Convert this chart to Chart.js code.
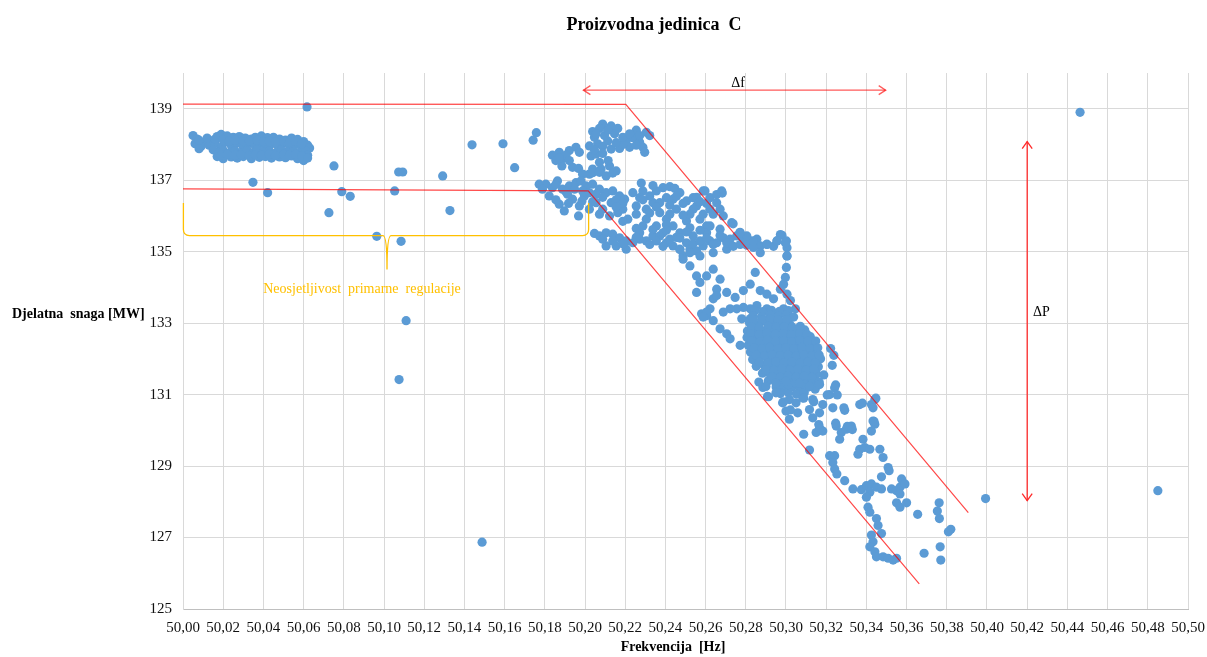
<!DOCTYPE html>
<html>
<head>
<meta charset="utf-8">
<title>Proizvodna jedinica C</title>
<script src="https://cdn.jsdelivr.net/npm/chart.js@4"></script>
<style>
  body { margin: 0; background: #fff; }
  #wrap { width: 1207px; height: 657px; }
</style>
</head>
<body>
<div id="wrap"><canvas id="chart" width="1207" height="657"></canvas></div>
<script>
// ══════════════════════════════════════════
// DATA  (frekvencija [Hz], djelatna snaga [MW])
// ══════════════════════════════════════════
const xTicks = [50.00, 50.02, 50.04, 50.06, 50.08, 50.10, 50.12, 50.14, 50.16, 50.18, 50.20, 50.22, 50.24,
  50.26, 50.28, 50.30, 50.32, 50.34, 50.36, 50.38, 50.40, 50.42, 50.44, 50.46, 50.48, 50.50];
const yTicks = [125, 127, 129, 131, 133, 135, 137, 139];

// steady band before the dead band ends
const restBand = [
  [50.005,138.25],[50.007,138.15],[50.011,138.05],[50.014,138.1],[50.017,138.22],[50.019,138.28],[50.022,138.24],
  [50.025,138.2],[50.028,138.22],[50.031,138.18],[50.034,138.15],[50.036,138.2],[50.039,138.24],[50.042,138.19],
  [50.045,138.2],[50.048,138.15],[50.051,138.12],[50.054,138.18],[50.057,138.14],[50.06,138.08],[50.062,137.98],
  [50.006,138.02],[50.009,137.95],[50.013,137.98],[50.016,138.05],[50.019,137.92],[50.021,138.06],[50.024,137.97],
  [50.027,138.04],[50.03,137.93],[50.033,138.03],[50.036,137.96],[50.038,138.05],[50.041,137.94],[50.044,138.02],
  [50.047,137.97],[50.05,138.04],[50.053,137.95],[50.056,138.0],[50.059,137.92],[50.063,137.9],
  [50.008,137.88],[50.015,137.85],[50.018,137.78],[50.02,137.84],[50.023,137.76],[50.026,137.82],[50.029,137.75],
  [50.032,137.83],[50.035,137.77],[50.037,137.85],[50.04,137.78],[50.043,137.82],[50.046,137.76],[50.049,137.84],
  [50.052,137.79],[50.055,137.8],[50.058,137.76],[50.061,137.82],
  [50.017,137.66],[50.02,137.6],[50.024,137.65],[50.027,137.62],[50.03,137.66],[50.034,137.6],[50.038,137.64],
  [50.041,137.66],[50.044,137.62],[50.048,137.65],[50.051,137.63],[50.054,137.68],[50.057,137.6],[50.06,137.55],[50.062,137.7],
  [50.008,138.12],[50.012,138.18],[50.016,138.15],[50.02,138.13],[50.023,138.1],[50.026,138.12],[50.03,138.08],
  [50.033,138.1],[50.037,138.12],[50.04,138.08],[50.043,138.1],[50.046,138.07],[50.05,138.1],[50.053,138.06],
  [50.056,138.08],[50.059,138.02],
  [50.019,137.7],[50.022,137.72],[50.026,137.7],[50.029,137.71],[50.033,137.69],[50.036,137.71],[50.039,137.7],
  [50.043,137.72],[50.046,137.69],[50.05,137.72],[50.053,137.7],[50.056,137.72],[50.059,137.68],[50.062,137.62]
];

const scattered = [
  [50.0617,139.05],[50.0348,136.94],[50.0421,136.65],[50.0751,137.40],[50.0726,136.09],[50.079,136.68],
  [50.0832,136.55],[50.0964,135.43],[50.1053,136.70],[50.1073,137.23],[50.1093,137.23],[50.1085,135.29],
  [50.1292,137.12],[50.1328,136.15],[50.111,133.07],[50.1075,131.42],[50.1488,126.87],[50.1438,137.99],
  [50.1592,138.02],[50.165,137.35],[50.1742,138.12],[50.1758,138.33],[50.3993,128.09],[50.485,128.31],[50.4463,138.90]
];

const upperLoop = [
  [50.2088,138.57],[50.2130,138.52],[50.2163,138.45],[50.2038,138.36],[50.2072,138.45],[50.2113,138.1],[50.2130,137.87],
  [50.2172,137.89],[50.2022,137.96],[50.2030,137.68],[50.2055,137.73],[50.2097,138.25],[50.2047,138.2],[50.2147,138.3],
  [50.2063,138.02],[50.2205,138.1],[50.2238,138.19],[50.2272,138.06],[50.2305,138.34],[50.2322,138.25],[50.2288,137.92],
  [50.2297,137.78],[50.2222,137.92],[50.2255,138.4],[50.2188,138.0],[50.1838,137.7],[50.1872,137.78],[50.1888,137.6],
  [50.1885,137.4],[50.1922,137.83],[50.1955,137.92],[50.1972,137.78],[50.1938,137.36],[50.1968,137.33],[50.1905,137.7],
  [50.1855,137.55],[50.2038,137.31],[50.208,137.31],[50.2122,137.4],[50.2155,137.26],[50.2105,137.12],[50.2022,137.17],
  [50.2138,137.2],[50.2038,137.21],[50.1988,137.17],
  [50.2055,138.3],[50.2113,138.4],[50.2088,137.95],[50.2155,138.05],[50.2188,138.2],[50.2222,138.3],[50.2272,138.25],
  [50.2255,137.98],[50.2047,137.85],[50.2088,137.75],[50.1922,137.55],[50.1872,137.62],[50.2072,137.5],[50.2115,137.55],
  [50.2072,137.22]
];

const mainBand = [
  [50.1772,136.89],[50.1805,136.89],[50.1838,136.79],[50.1863,136.98],[50.1888,136.75],[50.1922,136.84],[50.1955,136.93],
  [50.198,136.98],[50.2005,136.84],[50.2038,136.89],[50.2072,136.75],[50.2105,136.65],[50.2138,136.7],[50.2172,136.56],
  [50.2197,136.47],[50.1872,136.33],[50.1897,136.14],[50.1938,136.47],[50.1972,136.28],[50.1968,136.0],[50.2022,136.19],
  [50.2055,136.37],[50.2088,136.19],[50.2122,136.0],[50.2163,136.09],[50.2213,135.91],[50.2188,136.19],[50.1822,136.56],
  [50.1913,136.61],[50.1997,136.56],[50.2055,136.61],[50.213,136.37],
  [50.228,136.92],[50.2288,136.7],[50.2272,136.51],[50.2255,136.28],[50.2305,136.19],[50.2355,136.7],[50.2388,136.79],
  [50.2422,136.82],[50.2447,136.77],[50.2405,136.51],[50.2438,136.47],[50.2338,136.37],[50.2372,136.09],[50.2405,135.91],
  [50.2455,136.19],[50.2505,136.42],[50.2538,136.51],[50.2555,136.28],[50.2588,136.7],[50.2622,136.51],[50.2655,136.37],
  [50.268,136.7],[50.2505,135.86],[50.2572,135.91],[50.2605,135.72],[50.2688,136.0],[50.2672,136.19],[50.2322,136.56],
  [50.2238,136.65],[50.2472,136.65],[50.2372,136.37],[50.2305,135.91],[50.2538,136.19],[50.2622,136.19],[50.273,135.81],
  [50.2597,136.7],[50.2683,136.64],[50.2555,136.52],[50.2737,135.78],[50.2771,135.54],
  [50.1788,136.75],[50.1855,136.88],[50.1905,136.68],[50.1948,136.75],[50.1988,136.7],[50.2022,136.65],[50.2088,136.52],
  [50.2155,136.45],[50.2188,136.35],[50.2155,136.25],[50.2072,136.05],[50.2038,136.4],[50.1985,136.42],[50.1918,136.35],
  [50.1855,136.45],[50.2255,136.05],[50.2288,136.45],[50.2338,136.85],[50.2322,136.08],[50.2355,136.25],[50.2422,136.3],
  [50.2455,136.55],[50.2488,136.35],[50.2522,136.05],[50.2488,136.02],[50.2572,136.4],[50.2605,136.35],[50.2638,136.05],
  [50.2655,136.6],[50.2588,136.05],[50.2422,136.05],[50.2405,135.75],[50.2255,135.65],[50.2188,135.85]
];

const lowerBand = [
  [50.2047,135.51],[50.2072,135.44],[50.2105,135.53],[50.2138,135.49],[50.2172,135.39],[50.2205,135.3],[50.2238,135.25],
  [50.2272,135.35],[50.2305,135.3],[50.2338,135.44],[50.2372,135.44],[50.2405,135.25],[50.2438,135.16],[50.2472,135.07],
  [50.2488,134.88],[50.2522,135.07],[50.2555,135.02],[50.2588,135.16],[50.2622,135.3],[50.2655,135.25],[50.2688,135.39],
  [50.2755,135.44],[50.2788,135.34],[50.2822,135.3],[50.2872,135.16],[50.2905,135.21],[50.2955,135.3],[50.298,135.46],
  [50.3002,135.3],[50.3005,135.11],[50.3005,134.88],[50.2105,135.16],[50.2155,135.16],[50.2205,135.07],[50.2272,135.53],
  [50.2355,135.72],[50.2388,135.53],[50.2472,135.53],[50.2538,135.44],[50.2605,135.53],[50.2638,134.97],[50.2572,134.88],
  [50.2288,135.72],[50.2438,135.72],[50.2522,135.67],[50.2672,135.63],[50.2722,135.35],[50.2705,135.07],
  [50.2088,135.35],[50.2138,135.3],[50.2188,135.22],[50.2255,135.4],[50.2322,135.2],[50.2355,135.3],[50.2422,135.35],
  [50.2455,135.4],[50.2505,135.25],[50.2538,135.22],[50.2572,135.3],[50.2605,135.38],[50.2638,135.2],[50.2672,135.45],
  [50.2705,135.25],[50.2738,135.15],[50.2772,135.2],[50.2805,135.18],[50.2838,135.12],[50.2855,135.35],[50.2938,135.15],
  [50.2505,135.55],[50.2572,135.6],[50.2622,135.72],[50.2472,135.38],[50.2388,135.15],[50.2338,135.62],[50.2405,135.6]
];

const descent = [
  [50.2472,135.06],[50.2488,134.79],[50.2522,134.6],[50.2555,134.32],[50.2572,134.14],[50.2605,134.32],[50.2638,134.51],
  [50.2672,134.23],[50.2655,133.95],[50.2638,133.68],[50.2622,133.4],[50.2605,133.21],[50.258,133.26],[50.2555,133.86],
  [50.2655,133.77],[50.2522,134.97],[50.2972,135.48],[50.2997,135.25],[50.3005,134.88],[50.3002,134.56],[50.2997,134.28],
  [50.2988,134.09],[50.2905,135.2],[50.2872,134.97],[50.2838,135.3],[50.2805,135.44],[50.2772,135.53],[50.2955,135.3],
  [50.2705,133.86],[50.2747,133.72],[50.2788,133.91],[50.2822,134.09],[50.2847,134.42],[50.2872,133.91],[50.2905,133.81],
  [50.2938,133.68],[50.2972,133.95],[50.3005,133.81],[50.3022,133.63],[50.3047,133.4],[50.2988,133.4],[50.2955,133.21],
  [50.2905,133.4],[50.2855,133.49],[50.2822,133.4],[50.2788,133.44],[50.2755,133.4],[50.2722,133.4],[50.2688,133.31],
  [50.2605,133.31],[50.2588,133.17],[50.2638,133.07],[50.2672,132.84],[50.2705,132.7],[50.2722,132.56],[50.2772,132.38],
  [50.278,133.12],[50.2822,133.12]
];

const coreCluster = [
  [50.2845,133.35],[50.2885,133.32],[50.2928,133.36],[50.2968,133.33],[50.3012,133.35],
  [50.2835,133.21],[50.2878,133.18],[50.2921,133.23],[50.2962,133.19],[50.3001,133.22],[50.3038,133.17],
  [50.2818,133.02],[50.2862,132.96],[50.2901,133.04],[50.2943,132.98],[50.2979,133.03],[50.3021,132.95],
  [50.2808,132.78],[50.2851,132.83],[50.2889,132.76],[50.2932,132.81],[50.2968,132.77],[50.3012,132.84],[50.3049,132.78],[50.3093,132.81],
  [50.2806,132.6],[50.2843,132.56],[50.2887,132.62],[50.2924,132.58],[50.2966,132.63],[50.3004,132.57],[50.3047,132.61],[50.3083,132.56],[50.3121,132.62],
  [50.2812,132.38],[50.2853,132.42],[50.2891,132.37],[50.2928,132.41],[50.2972,132.36],[50.3009,132.42],[50.3052,132.38],[50.3088,132.43],[50.3128,132.37],
  [50.2823,132.19],[50.2861,132.22],[50.2899,132.17],[50.2942,132.23],[50.2978,132.18],[50.3018,132.21],[50.3061,132.17],[50.3098,132.22],[50.3141,132.18],
  [50.2834,131.98],[50.2872,132.03],[50.2913,131.97],[50.2951,132.02],[50.2992,131.98],[50.3029,132.03],[50.3071,131.97],[50.3109,132.02],[50.3148,131.99],
  [50.2852,131.79],[50.2891,131.82],[50.2929,131.77],[50.2971,131.83],[50.3008,131.78],[50.3052,131.82],[50.3089,131.77],[50.3128,131.81],[50.3161,131.78],
  [50.2883,131.6],[50.2922,131.57],[50.2961,131.62],[50.3002,131.58],[50.3043,131.61],[50.3081,131.57],[50.3119,131.61],[50.3152,131.58],
  [50.2912,131.39],[50.2953,131.42],[50.2991,131.38],[50.3031,131.41],[50.3072,131.37],[50.3109,131.42],[50.3141,131.38],
  [50.2951,131.21],[50.2992,131.18],[50.3031,131.22],[50.3069,131.17],[50.3112,131.21],
  [50.2972,131.03],[50.3012,131.06],[50.3052,131.02],[50.3091,131.05],
  [50.3222,132.29],[50.3238,132.1],[50.323,131.82],[50.3172,132.0],[50.3188,131.55],
  [50.2838,133.1],[50.2882,133.08],[50.2922,133.12],[50.2962,133.09],[50.3003,133.1],
  [50.2828,132.9],[50.2868,132.88],[50.2912,132.92],[50.2952,132.89],[50.2992,132.9],[50.3032,132.88],[50.3071,132.91],
  [50.2825,132.7],[50.2867,132.68],[50.2905,132.72],[50.2947,132.69],[50.2986,132.71],[50.3027,132.68],[50.3068,132.71],[50.3104,132.69],
  [50.2829,132.5],[50.2872,132.48],[50.2908,132.52],[50.2948,132.49],[50.2988,132.51],[50.3029,132.48],[50.3069,132.52],[50.3108,132.49],[50.3148,132.5],
  [50.2841,132.3],[50.2882,132.28],[50.2919,132.32],[50.2961,132.29],[50.2999,132.31],[50.3041,132.28],[50.3079,132.32],[50.3119,132.29],[50.3158,132.31],
  [50.2852,132.1],[50.2893,132.08],[50.2931,132.12],[50.2972,132.09],[50.3011,132.11],[50.3051,132.08],[50.3089,132.12],[50.3129,132.09],[50.3165,132.11],
  [50.2868,131.9],[50.2909,131.88],[50.2949,131.92],[50.2989,131.89],[50.3029,131.91],[50.3069,131.88],[50.3109,131.92],[50.3146,131.89],
  [50.2899,131.7],[50.2941,131.68],[50.2981,131.72],[50.3021,131.69],[50.3061,131.71],[50.3101,131.68],[50.3138,131.71],
  [50.2931,131.5],[50.2972,131.48],[50.3011,131.52],[50.3051,131.49],[50.3091,131.51],[50.3129,131.48],
  [50.2972,131.3],[50.3011,131.28],[50.3051,131.32],[50.3091,131.29],[50.3128,131.3],
  [50.2885,131.2],[50.2865,131.35],[50.3145,131.15],[50.3165,131.35]
];

const tail = [
  [50.29,131.23],[50.295,131.32],[50.3,131.37],[50.3067,131.32],[50.3117,131.23],[50.3167,131.28],[50.3242,131.19],
  [50.3217,131.0],[50.2908,130.95],[50.295,131.05],[50.2983,130.77],[50.3017,130.86],[50.305,130.77],[50.3083,130.91],
  [50.3133,130.86],[50.3183,130.72],[50.3233,130.63],[50.3117,130.58],[50.3167,130.49],[50.3133,130.35],[50.3058,130.49],
  [50.3,130.54],[50.3017,130.31],[50.3292,130.56],[50.3367,130.72],[50.3425,130.72],[50.3442,130.86],[50.3433,130.63],
  [50.3433,130.26],[50.3442,130.17],[50.3425,129.98],[50.3088,129.89],[50.3117,129.45],[50.315,129.94],[50.3183,129.98],
  [50.3167,130.07],[50.325,130.12],[50.3275,129.94],[50.33,130.03],[50.3325,130.12],[50.3267,129.75],[50.3383,129.75],
  [50.3367,129.47],[50.3392,129.52],[50.3417,129.47],[50.3467,129.47],[50.3358,129.33],[50.3217,129.29],[50.3242,129.29],
  [50.3233,129.1],[50.3242,128.92],[50.3253,128.78],[50.3483,129.24],[50.3508,128.96],[50.3513,128.87],[50.3475,128.7],
  [50.3292,128.59],[50.3333,128.36],[50.3375,128.34],[50.34,128.45],[50.3425,128.5],[50.345,128.41],[50.3475,128.36],
  [50.3417,128.27],[50.34,128.13],[50.3408,127.85],[50.3417,127.71],[50.3525,128.36],[50.355,128.31],[50.3567,128.41],
  [50.3575,128.64],[50.3592,128.5],[50.3567,128.22],[50.355,127.97],[50.3567,127.85],[50.36,127.97],[50.345,127.53],
  [50.3458,127.34],[50.3475,127.11],[50.3425,127.07],[50.3433,126.88],[50.3417,126.74],[50.3442,126.6],[50.345,126.46],
  [50.3483,126.46],[50.3508,126.42],[50.3533,126.37],[50.355,126.42],[50.3655,127.65],[50.3687,126.56],[50.3762,127.97],
  [50.3753,127.74],[50.3763,127.53],[50.3808,127.16],[50.382,127.23],[50.3767,126.74],[50.377,126.37],
  [50.2913,130.94],[50.2988,130.8],[50.3022,130.57],[50.3088,130.9],[50.3138,130.8],[50.3205,130.99],[50.3247,131.27],
  [50.3255,130.99],[50.3288,130.63],[50.338,130.76],[50.3447,130.9],[50.3163,130.16],[50.3247,130.2],[50.3305,130.11],
  [50.3438,130.25],[50.333,130.02]
];

// annotation geometry (data units)
const upperLineFreq = [50.00, 50.2203, 50.3907];
const upperLinePower = [139.13, 139.12, 127.70];
const lowerLineFreq = [50.00, 50.2016, 50.3663];
const lowerLinePower = [136.76, 136.70, 125.70];
const dfFreq = [50.1992, 50.3496];
const dfPower = 139.52;
const dpFreq = 50.42;
const dpPower = [138.08, 128.03];
const braceFreq = [50.0002, 50.1015, 50.2018];
const bracePower = [136.36, 135.45, 134.50]; // ends, bar, tip

const SERIF = "'Liberation Serif', 'Times New Roman', serif";

// ══════════════════════════════════════════
// OVERLAY (regulation lines, arrows, brace, texts)
// ══════════════════════════════════════════
function legs(ctx, ax, ay, tx, ty, bx, by) {
  ctx.beginPath();
  ctx.moveTo(ax, ay);
  ctx.lineTo(tx, ty);
  ctx.lineTo(bx, by);
  ctx.stroke();
}

const overlay = {
  id: "overlay",
  afterDatasetsDraw(chart) {
    const { ctx } = chart;
    const sx = chart.scales.x, sy = chart.scales.y;
    const px = (v) => sx.getPixelForValue(v);
    const py = (v) => sy.getPixelForValue(v);
    ctx.save();

    // regulation lines
    ctx.strokeStyle = "rgba(255,0,0,0.72)";
    ctx.lineWidth = 1.2;
    [[upperLineFreq, upperLinePower], [lowerLineFreq, lowerLinePower]].forEach(([fs, ps]) => {
      ctx.beginPath();
      fs.forEach((f, i) => (i ? ctx.lineTo(px(f), py(ps[i])) : ctx.moveTo(px(f), py(ps[i]))));
      ctx.stroke();
    });

    // Δf arrow
    ctx.strokeStyle = "rgba(255,0,0,0.65)";
    ctx.lineWidth = 1.3;
    const fy = py(dfPower), fl = px(dfFreq[0]), fr = px(dfFreq[1]);
    ctx.beginPath();
    ctx.moveTo(fl, fy);
    ctx.lineTo(fr, fy);
    ctx.stroke();
    legs(ctx, fl + 7, fy - 4.5, fl, fy, fl + 7, fy + 4.5);
    legs(ctx, fr - 7, fy - 4.5, fr, fy, fr - 7, fy + 4.5);

    // ΔP arrow
    ctx.strokeStyle = "#ff2a2a";
    const ax = px(dpFreq), at = py(dpPower[0]), ab = py(dpPower[1]);
    ctx.beginPath();
    ctx.moveTo(ax, at);
    ctx.lineTo(ax, ab);
    ctx.stroke();
    legs(ctx, ax - 5, at + 7, ax, at, ax + 5, at + 7);
    legs(ctx, ax - 5, ab - 7, ax, ab, ax + 5, ab - 7);

    // dead-band brace
    ctx.strokeStyle = "#ffc000";
    ctx.lineWidth = 1.3;
    const x0 = px(braceFreq[0]), xm = px(braceFreq[1]), x1 = px(braceFreq[2]);
    const yt = py(bracePower[0]), yb = py(bracePower[1]), ytip = py(bracePower[2]);
    const r = 6, r2 = 4;
    ctx.beginPath();
    ctx.moveTo(x0, yt);
    ctx.lineTo(x0, yb - r);
    ctx.quadraticCurveTo(x0, yb, x0 + r, yb);
    ctx.lineTo(xm - r2, yb);
    ctx.quadraticCurveTo(xm, yb, xm, ytip);
    ctx.quadraticCurveTo(xm, yb, xm + r2, yb);
    ctx.lineTo(x1 - r, yb);
    ctx.quadraticCurveTo(x1, yb, x1, yb - r);
    ctx.lineTo(x1, yt);
    ctx.stroke();

    // labels
    ctx.textBaseline = "middle";
    ctx.fillStyle = "#000";
    ctx.font = "14px " + SERIF;
    ctx.textAlign = "center";
    ctx.fillText("\u0394f", 738, 83);
    ctx.textAlign = "left";
    ctx.fillText("\u0394P", 1033, 312);
    ctx.fillStyle = "#ffc000";
    ctx.font = "14px " + SERIF;
    ctx.textAlign = "center";
    ctx.fillText("Neosjetljivost  primarne  regulacije", 362, 289);

    // titles
    ctx.fillStyle = "#000";
    ctx.font = "bold 18px " + SERIF;
    ctx.fillText("Proizvodna jedinica  C", 654, 25);
    ctx.font = "bold 14px " + SERIF;
    ctx.fillText("Frekvencija  [Hz]", 673, 647);
    ctx.textAlign = "left";
    ctx.fillText("Djelatna  snaga [MW]", 12, 314);
    ctx.restore();
  },
};

// ══════════════════════════════════════════
// CHART
// ══════════════════════════════════════════
const points = [].concat(restBand, scattered, upperLoop, mainBand, lowerBand, descent, coreCluster, tail)
  .map(([f, p]) => ({ x: f, y: p }));

new Chart(document.getElementById("chart").getContext("2d"), {
  type: "scatter",
  data: {
    datasets: [
      {
        data: points,
        pointRadius: 4.6,
        pointBackgroundColor: "#5b9bd5",
        pointBorderWidth: 0,
      },
    ],
  },
  options: {
    responsive: false,
    animation: false,
    events: [],
    layout: { padding: { top: 73, right: 19, left: 0, bottom: 0 } },
    plugins: { legend: { display: false }, tooltip: { enabled: false } },
    scales: {
      x: {
        type: "linear",
        min: 50,
        max: 50.5,
        afterBuildTicks: (s) => (s.ticks = xTicks.map((v) => ({ value: v }))),
        afterFit: (s) => {
          s.height = 48;
          s.paddingLeft = 0;
          s.paddingRight = 0;
        },
        grid: { color: "#d9d9d9", drawTicks: false },
        border: { color: "#bfbfbf" },
        ticks: {
          autoSkip: false,
          maxRotation: 0,
          padding: 10,
          color: "#111",
          font: { family: SERIF, size: 15 },
          callback: (v) => v.toFixed(2).replace(".", ","),
        },
      },
      y: {
        min: 125,
        max: 140,
        afterBuildTicks: (s) => (s.ticks = yTicks.map((v) => ({ value: v }))),
        afterFit: (s) => {
          s.width = 183;
          s.paddingTop = 0;
          s.paddingBottom = 0;
        },
        grid: { color: "#d9d9d9", drawTicks: false },
        border: { color: "#d9d9d9" },
        ticks: {
          padding: 11,
          color: "#111",
          font: { family: SERIF, size: 15 },
          callback: (v) => String(v),
        },
      },
    },
  },
  plugins: [overlay],
});
</script>
</body>
</html>
